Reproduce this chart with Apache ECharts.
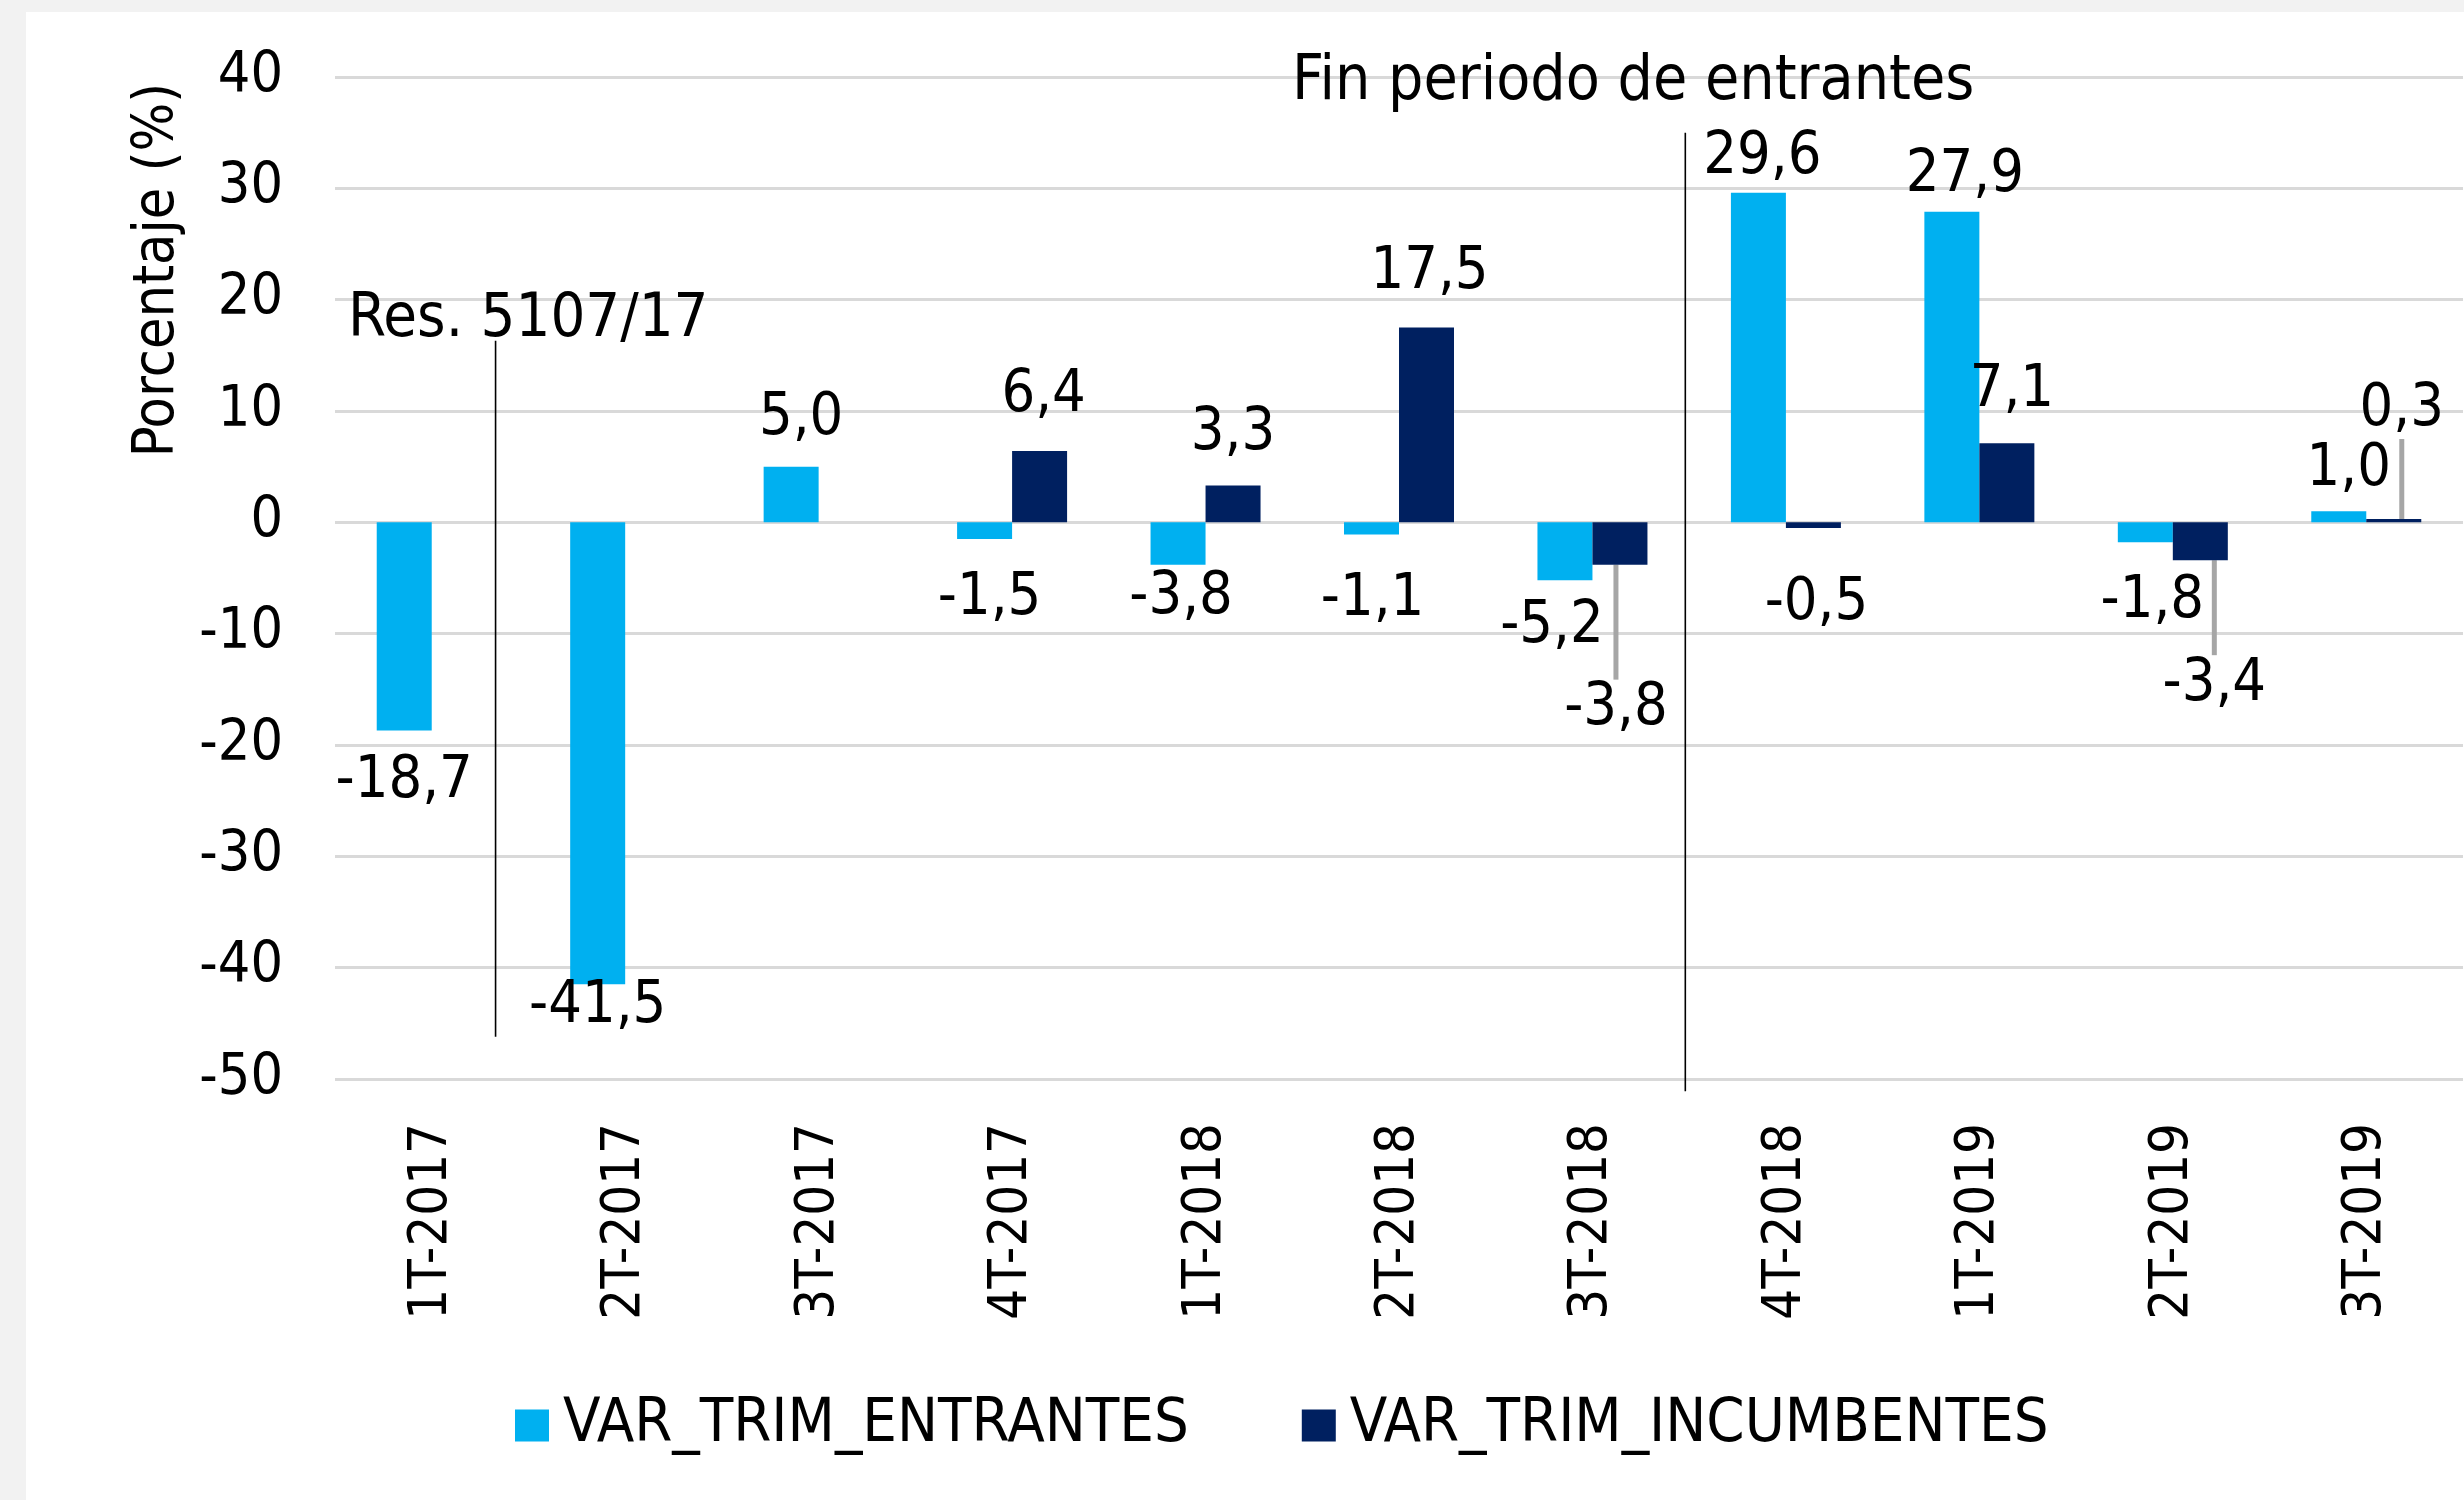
<!DOCTYPE html>
<html>
<head>
<meta charset="utf-8">
<title>Variación trimestral entrantes / incumbentes</title>
<script src="https://cdn.jsdelivr.net/npm/echarts@6/dist/echarts.min.js"></script>
<style>
  html, body { margin: 0; padding: 0; background: #f2f2f2; }
  #panel { position: absolute; left: 26px; top: 12px; right: 0; bottom: 0; background: #ffffff; }
  #chart { position: absolute; left: 0; top: 0; width: 2464px; height: 1500px; }
</style>
</head>
<body>
<div id="panel"></div>
<div id="chart"></div>
<script>
// ---- data ----
const categories = ['1T-2017', '2T-2017', '3T-2017', '4T-2017', '1T-2018', '2T-2018',
                    '3T-2018', '4T-2018', '1T-2019', '2T-2019', '3T-2019'];
const entrantes   = [-18.7, -41.5, 5.0, -1.5, -3.8, -1.1, -5.2, 29.6, 27.9, -1.8, 1.0];
const incumbentes = [null, null, null, 6.4, 3.3, 17.5, -3.8, -0.5, 7.1, -3.4, 0.3];
const yMin = -50, yMax = 40, yStep = 10;

// reference lines, x in category units counted from the left edge of the plot
const resLine = [[0.83, 16.3], [0.83, -46.2]];
const finLine = [[6.98, 35.0], [6.98, -51.1]];
const resText = 'Res. 5107/17';
const finText = 'Fin periodo de entrantes';
const yName = 'Porcentaje (%)';

// ---- label nudges [dx, dy, leader line] ----
const entShift = [[0, 11], [0, -18], [10, 0], [5, 19], [3, -7], [1, 25], [-13, 6],
                  [4, 12], [13, 11], [7, 19], [10, 6]];
const incShift = [null, null, null, [4, -8], [0, -4], [3, -7], [-4, 104, true],
                  [3, 35], [5, -5], [14, 84, true], [8, -62, true]];

const FONT = "'DejaVu Sans Condensed', 'DejaVu Sans', sans-serif";
const LEADER = { color: '#a6a6a6', width: 5, opacity: 1 };
const fmt = v => v.toFixed(1).replace('.', ',');

function barData(values, shifts) {
  return values.map((v, i) => {
    if (v === null) return '-';
    const s = shifts[i] || [];
    return {
      value: v,
      label: { position: v < 0 ? 'bottom' : 'top', distance: v < 0 ? 11 : 18 },
      labelLine: { show: !!s[2], lineStyle: LEADER }
    };
  });
}

function barSeries(name, color, values, shifts) {
  return {
    name: name,
    type: 'bar',
    barWidth: 55,
    barGap: '0%',
    itemStyle: { color: color },
    data: barData(values, shifts),
    label: {
      show: true,
      color: '#000',
      fontSize: 59,
      fontFamily: FONT,
      formatter: p => fmt(p.value)
    },
    labelLine: { show: false, lineStyle: LEADER },
    labelLayout: p => {
      const s = shifts[p.dataIndex];
      return s ? { dx: s[0], dy: s[1] } : {};
    }
  };
}

function refLine(points) {
  return {
    type: 'line',
    xAxisIndex: 1,
    yAxisIndex: 0,
    data: points,
    symbol: 'none',
    silent: true,
    clip: false,
    lineStyle: { color: '#000', width: 1.6 },
    z: 5
  };
}

const chart = echarts.init(document.getElementById('chart'), null, { renderer: 'canvas' });

chart.setOption({
  animation: false,
  backgroundColor: 'transparent',
  textStyle: { fontFamily: FONT },
  grid: { left: 335, right: 1, top: 77, bottom: 421, outerBoundsMode: 'none' },
  legend: {
    left: 510,
    top: 1390,
    icon: 'rect',
    itemWidth: 34,
    itemHeight: 32,
    itemGap: 113,
    textStyle: { fontSize: 61, color: '#000', fontFamily: FONT, padding: [0, 0, 0, 9] },
    data: ['VAR_TRIM_ENTRANTES', 'VAR_TRIM_INCUMBENTES']
  },
  xAxis: [
    {
      type: 'category',
      data: categories,
      position: 'bottom',
      axisLine: { show: false, onZero: false },
      axisTick: { show: false },
      axisLabel: { rotate: 90, interval: 0, margin: 44, fontSize: 54, color: '#000', fontFamily: FONT }
    },
    { type: 'value', min: 0, max: categories.length, show: false }
  ],
  yAxis: {
    type: 'value',
    min: yMin,
    max: yMax,
    interval: yStep,
    axisLine: { show: false },
    axisTick: { show: false },
    axisLabel: { fontSize: 57, color: '#000', margin: 52, fontFamily: FONT },
    splitLine: { lineStyle: { color: '#d9d9d9', width: 3 } }
  },
  series: [
    barSeries('VAR_TRIM_ENTRANTES', '#00b0f0', entrantes, entShift),
    barSeries('VAR_TRIM_INCUMBENTES', '#002060', incumbentes, incShift),
    refLine(resLine),
    refLine(finLine)
  ]
});

// annotation texts anchored in data space
function toPx(pt) { return chart.convertToPixel({ xAxisIndex: 1, yAxisIndex: 0 }, pt); }
const resAnchor = toPx([0.067, resLine[0][1]]);
const finAnchor = toPx([6.71, 37.55]);

chart.setOption({
  graphic: [
    {
      type: 'text', x: 158, y: 270, rotation: Math.PI / 2,
      style: { text: yName, fontSize: 57, fontFamily: FONT, fill: '#000', align: 'center', verticalAlign: 'middle' }
    },
    {
      type: 'text', x: resAnchor[0], y: resAnchor[1] - 0.345 * 61,
      style: { text: resText, fontSize: 61, fontFamily: FONT, fill: '#000', align: 'left', verticalAlign: 'middle' }
    },
    {
      type: 'text', x: finAnchor[0], y: finAnchor[1] - 0.345 * 62,
      style: { text: finText, fontSize: 62, fontFamily: FONT, fill: '#000', align: 'center', verticalAlign: 'middle' }
    }
  ]
});
</script>
</body>
</html>
